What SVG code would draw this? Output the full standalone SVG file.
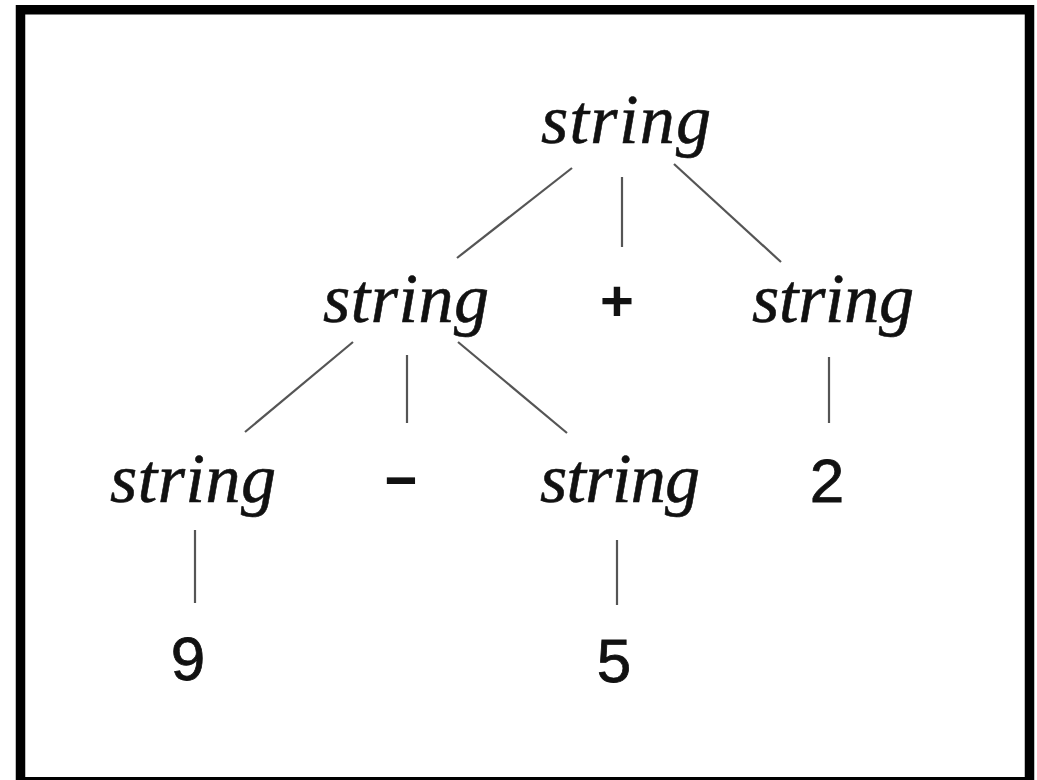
<svg xmlns="http://www.w3.org/2000/svg" width="1037" height="780" viewBox="0 0 1037 780">
<style>
.nt{font-family:"Liberation Serif","DejaVu Serif",serif;font-style:italic;font-size:70px;fill:#111;text-anchor:middle;stroke:#111;stroke-width:0.6}
.tm{font-family:"Liberation Sans",Arial,sans-serif;font-size:62px;fill:#111;text-anchor:middle;stroke:#111;stroke-width:0.8}
.op{font-family:"Liberation Sans",Arial,sans-serif;font-weight:bold;fill:#111;text-anchor:middle}
.e{stroke:#555;stroke-width:2.2;fill:none}
</style>
<rect x="0" y="0" width="1037" height="780" fill="#fff"/>
<rect x="20.5" y="9.75" width="1009" height="772" fill="none" stroke="#000" stroke-width="9.5"/>
<g id="connectors">
<line class="e" x1="572" y1="168" x2="457" y2="258"/>
<line class="e" x1="622" y1="177" x2="622" y2="247"/>
<line class="e" x1="674" y1="164" x2="781" y2="262"/>
<line class="e" x1="353" y1="342" x2="245" y2="432"/>
<line class="e" x1="407" y1="355" x2="407" y2="423"/>
<line class="e" x1="458" y1="342" x2="567" y2="433"/>
<line class="e" x1="829" y1="357" x2="829" y2="423"/>
<line class="e" x1="195" y1="530" x2="195" y2="603"/>
<line class="e" x1="617" y1="540" x2="617" y2="605"/>
</g>
<g id="n_root"><text class="nt" x="626" y="143" textLength="170" lengthAdjust="spacing">string</text></g>
<g id="n_l"><text class="nt" x="406" y="322" textLength="166" lengthAdjust="spacing">string</text></g>
<g id="n_plus"><text class="op" x="617" y="321" font-size="58">+</text></g>
<g id="n_r"><text class="nt" x="833" y="322" textLength="162" lengthAdjust="spacing">string</text></g>
<g id="n_ll"><text class="nt" x="193" y="502" textLength="166" lengthAdjust="spacing">string</text></g>
<g id="n_minus"><text class="op" x="401" y="495" font-size="56" textLength="37" lengthAdjust="spacingAndGlyphs">-</text></g>
<g id="n_lr"><text class="nt" x="620" y="502" textLength="160" lengthAdjust="spacing">string</text></g>
<g id="n_2"><text class="tm" x="827" y="502">2</text></g>
<g id="n_9"><text class="tm" x="188" y="680">9</text></g>
<g id="n_5"><text class="tm" x="614" y="682">5</text></g>
</svg>
